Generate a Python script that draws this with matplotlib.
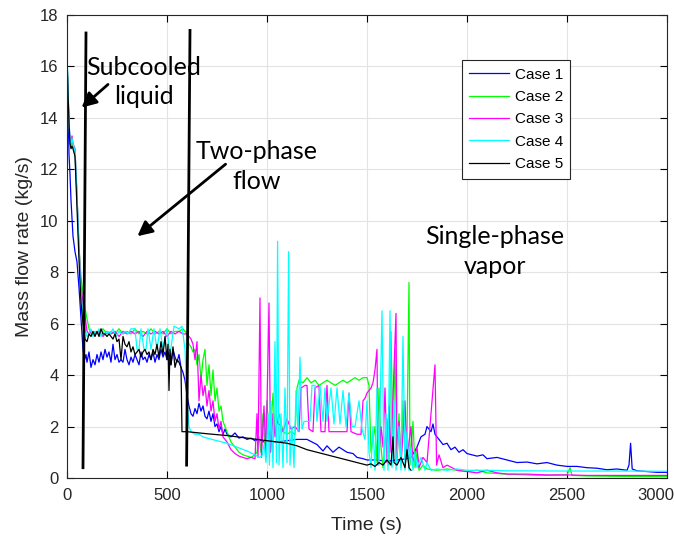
import matplotlib
matplotlib.use('Agg')
from matplotlib import pyplot as plt
from matplotlib.transforms import ScaledTranslation

# Case 1 (blue)
t1 = [0, 5, 10, 15, 20, 30, 40, 50, 60, 70, 80, 88, 95,
      100, 110, 120, 130, 140, 150, 160, 170, 180, 190, 200, 210, 220, 230, 240, 250,
      260, 270, 280, 290, 300, 310, 320, 330, 340, 350, 360, 370, 380, 390, 400, 410,
      420, 430, 440, 450, 460, 470, 480, 490, 500, 510, 520, 530, 540, 550, 560, 570,
      580, 590, 600, 610, 620, 630, 640, 650, 660, 670, 680, 690, 700, 710, 720, 730,
      740, 750, 760, 770, 780, 790, 800, 820, 840, 860, 880, 900, 920, 940, 960, 980,
      1000, 1050, 1100, 1150, 1200, 1250, 1280, 1300, 1330, 1360, 1400, 1430, 1450,
      1480, 1500, 1550, 1600, 1650, 1700, 1720, 1750, 1770, 1790, 1800, 1820, 1830,
      1840, 1860, 1880, 1900, 1920, 1940, 1960, 1980, 2000, 2050, 2080, 2100, 2150,
      2200, 2250, 2300, 2350, 2400, 2450, 2500, 2550, 2600, 2650, 2700, 2750, 2800,
      2810, 2818, 2826, 2850, 2900, 2950, 3000]
m1 = [16.4, 14.5, 12.6, 11.8, 10.8, 9.4, 8.8, 8.4, 7.4, 6.2, 5.0, 4.6, 4.8,
      4.5, 4.9, 4.3, 4.6, 4.4, 4.8, 4.5, 4.9, 4.6, 5.0, 4.7, 4.9, 4.5, 5.2, 4.6, 4.8,
      4.5, 4.6, 4.5, 5.0, 4.6, 4.4, 4.7, 4.5, 4.8, 4.6, 4.4, 4.9, 4.6, 4.7, 4.5, 4.8,
      4.6, 4.9, 4.5, 4.8, 4.6, 5.0, 4.7, 4.9, 4.6, 4.9, 4.4, 5.0, 4.7, 4.5, 4.8, 4.3,
      4.1, 3.8, 3.2, 2.8, 2.5, 2.4, 2.7, 2.5, 2.9, 2.6, 2.8, 2.4, 2.3, 2.6, 2.2, 2.5,
      2.0, 2.1, 1.8, 2.0, 1.7, 1.9, 1.7, 1.6, 1.75, 1.55, 1.6, 1.5, 1.55, 1.45, 1.5, 1.4,
      1.45, 1.4, 1.45, 1.5, 1.5, 1.3, 1.05, 1.25, 1.0, 1.2, 1.0, 0.95, 0.8,
      0.75, 0.7, 0.7, 0.65, 0.7, 0.75, 0.8, 1.2, 1.6, 1.7, 2.0, 1.8, 2.1,
      1.7, 1.5, 1.3, 1.35, 1.1, 1.2, 1.0, 1.1, 0.95, 0.85, 0.9, 0.75, 0.8,
      0.7, 0.6, 0.62, 0.55, 0.6, 0.5, 0.45, 0.45, 0.4, 0.38, 0.32, 0.35, 0.3,
      0.5, 1.35, 0.35, 0.28, 0.25, 0.22, 0.22]

# Case 2 (green)
t2 = [0, 5, 10, 15, 20, 25, 30, 40, 50, 60, 70, 80, 90, 100, 110, 120,
      140, 160, 180, 200, 220, 240, 260, 280, 300, 320, 340, 360, 380, 400, 420, 440,
      460, 480, 500, 520, 540, 560, 580, 600, 610, 620, 630, 640, 650, 660, 670, 680,
      690, 700, 710, 720, 730, 740, 750, 760, 770, 780, 790, 800, 820, 840, 860, 880,
      900, 920, 940, 950, 960, 970, 980, 990, 1000, 1010, 1020, 1030, 1040, 1060, 1080,
      1100, 1120, 1140, 1150, 1160, 1180, 1200, 1220, 1240, 1260, 1280, 1300, 1320,
      1340, 1360, 1380, 1400, 1420, 1440, 1460, 1480, 1500, 1510, 1520, 1540, 1550,
      1560, 1570, 1580, 1600, 1610, 1620, 1630, 1640, 1650, 1660, 1670, 1680, 1690,
      1700, 1710, 1715, 1730, 1740, 1750, 1760, 1780, 1800, 1850, 1900, 1950, 2000,
      2050, 2100, 2200, 2300, 2400, 2500, 2515, 2525, 2600, 2800, 3000]
m2 = [16.4, 15.0, 13.8, 13.0, 12.9, 13.1, 12.9, 12.7, 11.0, 9.0, 7.8, 7.2, 6.6, 6.2, 5.8, 5.6,
      5.7, 5.6, 5.8, 5.6, 5.7, 5.6, 5.8, 5.6, 5.7, 5.6, 5.8, 5.6, 5.7, 5.6, 5.8, 5.6,
      5.7, 5.6, 5.8, 5.6, 5.7, 5.7, 5.8, 5.6, 5.2, 5.1, 4.9, 5.0, 4.4, 4.8, 3.8, 4.6,
      5.0, 3.6, 4.4, 3.2, 4.2, 3.0, 3.5, 2.6, 2.8, 2.2, 2.0, 1.8, 1.4, 1.2, 1.0, 0.9,
      0.85, 0.8, 0.9, 1.0, 1.6, 1.0, 2.5, 1.2, 3.0, 1.5, 2.0, 3.3, 1.8, 2.5, 1.8,
      1.7, 1.8, 1.7, 3.5, 3.8, 3.7, 3.9, 3.7, 3.8, 3.6, 3.7, 3.8, 3.7,
      3.6, 3.7, 3.8, 3.7, 3.8, 3.9, 3.8, 3.9, 3.9, 3.6, 1.0, 2.0, 0.6,
      3.5, 1.2, 0.4, 2.3, 0.5, 5.7, 1.0, 5.0, 0.6, 2.5, 0.4, 3.0, 0.8,
      1.5, 7.6, 0.5, 2.2, 0.4, 1.0, 0.3, 0.5, 0.35, 0.3, 0.35, 0.3, 0.25,
      0.3, 0.2, 0.15, 0.12, 0.1, 0.12, 0.4, 0.1, 0.08, 0.06, 0.05]

# Case 3 (magenta)
t3 = [0, 5, 10, 15, 20, 25, 30, 40, 50, 60, 70, 80, 90, 100, 110, 120,
      140, 160, 180, 200, 220, 240, 260, 280, 300, 320, 340, 360, 380, 400, 420, 440,
      460, 480, 500, 520, 540, 560, 580, 600, 610, 620, 630, 640, 650, 660, 670, 680,
      690, 700, 710, 720, 730, 740, 750, 760, 770, 780, 800, 820, 840, 860, 880, 900,
      920, 940, 950, 955, 965, 972, 985, 995, 1010, 1018, 1030, 1040, 1050, 1070, 1080,
      1100, 1120, 1140, 1160, 1170, 1190, 1200, 1210, 1230, 1240, 1260, 1270, 1290,
      1300, 1310, 1340, 1380, 1400, 1410, 1420, 1450, 1470, 1480, 1490, 1500, 1520,
      1530, 1540, 1550, 1555, 1570, 1580, 1590, 1600, 1610, 1620, 1645, 1650, 1660,
      1670, 1690, 1700, 1720, 1730, 1750, 1760, 1780, 1800, 1840, 1848, 1860, 1880,
      1900, 1950, 2000, 2050, 2100, 2150, 2200, 2300, 2400, 2500, 2600, 2800, 3000]
m3 = [16.4, 15.0, 13.9, 13.1, 13.0, 13.3, 13.0, 12.8, 11.0, 9.0, 7.5, 6.8, 6.3, 5.7, 5.6, 5.7,
      5.6, 5.7, 5.5, 5.7, 5.6, 5.7, 5.5, 5.7, 5.6, 5.7, 5.6, 5.7, 5.5, 5.7, 5.6, 5.7,
      5.6, 5.7, 5.5, 5.7, 5.6, 5.7, 5.6, 5.6, 5.5, 5.4, 5.2, 4.6, 5.3, 3.0, 4.0, 3.2,
      3.6, 2.8, 3.4, 2.6, 3.0, 2.2, 2.5, 1.9, 2.2, 1.6, 1.4, 1.1, 0.95, 0.85, 0.8, 0.75,
      0.8, 0.75, 2.5, 0.8, 7.0, 0.8, 2.8, 0.8, 6.8, 1.0, 2.5, 1.6, 2.2, 2.0, 1.8,
      2.3, 1.9, 2.0, 1.8, 3.5, 3.6, 3.6, 1.9, 1.8, 3.5, 3.6, 1.8, 1.8,
      3.6, 1.8, 1.8, 1.8, 1.8, 3.3, 1.8, 1.7, 1.7, 3.0, 3.1, 3.3, 3.5,
      3.7, 4.2, 5.0, 0.5, 2.0, 1.2, 3.5, 0.6, 2.8, 1.0, 6.4, 0.8, 2.2,
      0.5, 3.0, 0.8, 2.0, 0.6, 1.2, 0.4, 0.8, 0.6, 4.4, 0.5, 0.9, 0.4,
      0.5, 0.3, 0.25, 0.2, 0.3, 0.2, 0.15, 0.15, 0.12, 0.12, 0.1, 0.1, 0.1]

# Case 4 (cyan)
t4 = [0, 5, 10, 15, 20, 25, 30, 40, 50, 60, 70, 80, 90, 100, 110, 120, 130, 140,
      150, 160, 170, 180, 190, 200, 215, 230, 245, 260, 275, 290, 305, 320, 340, 350,
      360, 370, 385, 395, 405, 420, 435, 450, 465, 480, 500, 515, 535, 560, 575, 590,
      600, 610, 620, 640, 660, 680, 700, 750, 800, 850, 900, 940, 960, 975, 985, 995,
      1005, 1012, 1020, 1030, 1040, 1047, 1053, 1060, 1070, 1080, 1090, 1100, 1108,
      1115, 1125, 1135, 1145, 1155, 1165, 1175, 1185, 1200, 1215, 1225, 1240, 1250,
      1265, 1280, 1290, 1300, 1320, 1335, 1350, 1365, 1380, 1395, 1410, 1425, 1440,
      1460, 1475, 1490, 1500, 1510, 1520, 1530, 1540, 1550, 1560, 1575, 1585, 1595,
      1605, 1615, 1625, 1635, 1645, 1660, 1670, 1680, 1690, 1700, 1710, 1720, 1730,
      1740, 1750, 1770, 1790, 1800, 1820, 1850, 1900, 1950, 2000, 2100, 2200, 2500,
      2800, 3000]
m4 = [16.6, 15.2, 14.0, 13.1, 13.0, 13.2, 13.0, 12.7, 11.0, 8.8, 7.2, 6.3, 5.8, 5.5, 5.6, 5.8, 5.5, 5.7,
      5.6, 5.8, 5.5, 5.7, 5.6, 5.7, 5.6, 5.8, 5.5, 5.7, 5.6, 5.7, 5.6, 5.8, 5.8, 5.0,
      5.0, 5.8, 5.0, 5.0, 5.8, 5.0, 5.8, 5.0, 5.8, 5.0, 5.8, 4.8, 5.9, 5.8, 5.9, 5.0,
      3.0, 2.0, 1.8, 1.7, 1.7, 1.6, 1.55, 1.45, 1.35, 1.2, 1.05, 0.9, 0.8, 0.85, 1.3, 0.6,
      2.5, 0.5, 3.0, 0.4, 5.3, 0.6, 9.2, 0.5, 2.5, 0.4, 3.5, 0.6, 8.8,
      0.5, 2.0, 0.4, 3.4, 1.8, 4.7, 1.9, 2.2, 2.2, 2.2, 3.6, 3.6, 2.2,
      3.6, 2.2, 3.5, 2.2, 3.5, 2.1, 3.5, 2.1, 3.4, 2.0, 3.3, 2.0, 2.0,
      3.0, 1.9, 1.5, 3.0, 1.0, 0.4, 2.0, 0.3, 3.5, 0.5, 6.5, 0.3, 2.5,
      0.3, 6.5, 0.4, 3.0, 0.3, 2.0, 0.3, 5.5, 0.3, 1.8, 0.3, 1.2, 0.3,
      1.0, 0.4, 0.8, 0.3, 0.6, 0.3, 0.35, 0.3, 0.35, 0.3, 0.3, 0.28, 0.27,
      0.27, 0.26]

# Case 5 (black)
t5 = [0, 5, 10, 15, 20, 25, 30, 40, 50, 60, 70, 80, 90, 100, 110, 120, 130, 140,
      150, 160, 170, 180, 190, 200, 210, 220, 230, 240, 250, 260, 270, 280, 290, 300,
      310, 320, 330, 340, 350, 360, 370, 380, 390, 400, 410, 420, 430, 440, 450, 460,
      470, 480, 490, 500, 505, 510, 515, 520, 530, 540, 550, 560, 570, 575, 600, 700,
      800, 900, 1000, 1100, 1150, 1200, 1300, 1400, 1450, 1500, 1520, 1540, 1560,
      1580, 1600, 1620, 1630, 1635, 1650, 1670, 1690, 1700, 1710, 1720]
m5 = [16.4, 15.0, 13.8, 13.0, 12.8, 12.9, 12.8, 12.5, 10.5, 8.5, 6.8, 6.0, 5.4, 5.3, 5.6, 5.5, 5.7, 5.5,
      5.7, 5.5, 5.8, 5.6, 5.6, 5.5, 5.6, 5.5, 5.4, 5.6, 5.3, 5.4, 4.6, 5.5, 5.2, 5.1,
      5.3, 4.9, 5.1, 4.8, 4.9, 5.0, 4.7, 4.9, 5.0, 4.8, 4.9, 4.6, 5.0, 4.8, 5.2, 4.7,
      5.3, 4.8, 5.5, 4.6, 5.2, 3.4, 5.0, 4.4, 5.1, 4.3, 4.6, 4.5, 4.3, 1.8, 1.8, 1.72,
      1.65, 1.55, 1.45, 1.35, 1.25, 1.1, 0.9, 0.7, 0.6, 0.5, 0.55, 0.45, 0.6,
      0.5, 0.7, 0.5, 1.6, 0.6, 0.5, 0.8, 0.4, 1.1, 0.4, 0.3]

# phase boundary lines
line1_t = [95, 80]
line1_m = [17.3, 0.4]
line2_t = [615, 598]
line2_m = [17.4, 0.5]

fig = plt.figure(figsize=(6.74, 5.39), dpi=100)
ax = fig.add_axes([0.0994, 0.1132, 0.8902, 0.859])

ax.plot(t1, m1, color=(0, 0, 1), lw=0.9, label='Case 1')
ax.plot(t2, m2, color=(0, 1, 0), lw=0.9, label='Case 2')
ax.plot(t3, m3, color=(1, 0, 1), lw=0.9, label='Case 3')
ax.plot(t4, m4, color=(0, 1, 1), lw=0.9, label='Case 4')
ax.plot(t5, m5, color='k', lw=0.9, label='Case 5')

ax.plot(line1_t, line1_m, color='k', lw=2)
ax.plot(line2_t, line2_m, color='k', lw=2)

tfont = dict(family='Lato', fontsize=18, ha='center', va='center', linespacing=1.35)
ax.text(385, 15.4, 'Subcooled\nliquid', **tfont)
ax.text(950, 12.1, 'Two-phase\nflow', **tfont)
ax.text(2140, 8.8, 'Single-phase\nvapor', **tfont)

arrow = dict(arrowstyle='-|>', lw=2, color='k', mutation_scale=22, shrinkA=0, shrinkB=0)
ax.annotate('', xy=(73, 14.4), xytext=(205, 15.3), arrowprops=arrow)
ax.annotate('', xy=(352, 9.4), xytext=(793, 12.2), arrowprops=arrow)

ax.set_xlim(0, 3000)
ax.set_ylim(0, 18)
ax.set_xticks(range(0, 3001, 500))
ax.set_yticks(range(0, 19, 2))
ax.grid(True, color='#e3e3e3', lw=0.8)
ax.set_axisbelow(True)
ax.tick_params(direction='in', top=True, right=True, labelsize=12, length=5)
ax.tick_params(axis='x', pad=7)
ax.tick_params(axis='y', pad=6)
for lab in ax.get_xticklabels() + ax.get_yticklabels():
    lab.set_family('Liberation Sans')
    lab.set_color('#262626')
for s in ax.spines.values():
    s.set_color('#262626')
    s.set_linewidth(0.8)

# keep the last x tick label inside the figure
last = ax.get_xticklabels()[-1]
last.set_transform(last.get_transform() + ScaledTranslation(-8 / 72, 0, fig.dpi_scale_trans))

ax.set_xlabel('Time (s)', family='Liberation Sans', fontsize=14, color='#262626', labelpad=10)
ax.set_ylabel('Mass flow rate (kg/s)', family='Liberation Sans', fontsize=14,
              color='#262626', labelpad=5)

leg = ax.legend(loc='upper left', bbox_to_anchor=(0.658, 0.903), borderaxespad=0,
                fancybox=False, framealpha=1, edgecolor='#262626', handlelength=2.6,
                handletextpad=0.35, prop={'family': 'Liberation Sans', 'size': 11},
                borderpad=0.5, labelspacing=0.55)
leg.get_frame().set_linewidth(0.8)

fig.savefig('out.png', dpi=100)
